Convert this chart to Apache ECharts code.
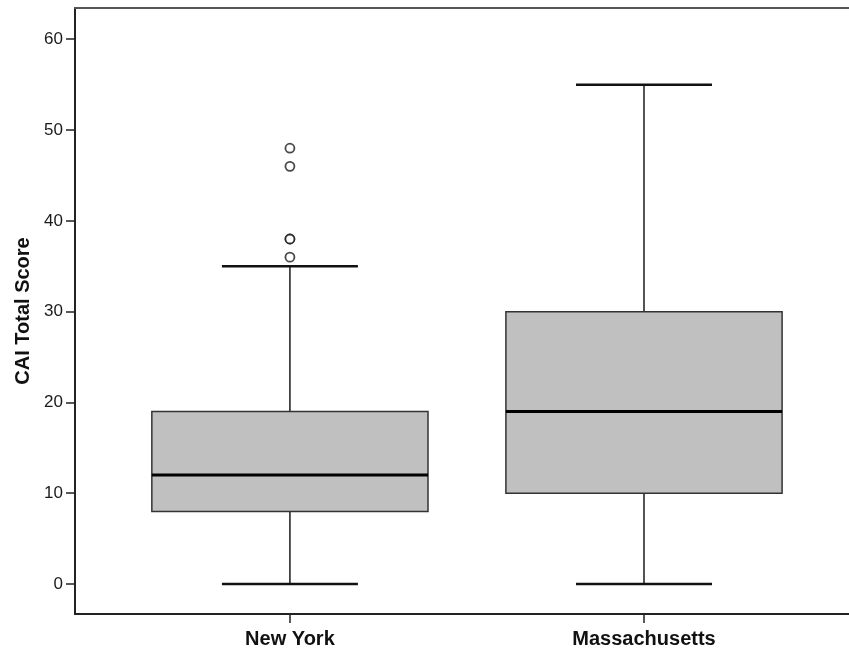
<!DOCTYPE html>
<html>
<head>
<meta charset="utf-8">
<script src="https://cdn.jsdelivr.net/npm/echarts@6/dist/echarts.min.js"></script>
<style>html,body{margin:0;padding:0;background:#fff}#c{width:849px;height:650px}</style>
</head>
<body>
<div id="c"></div>
<script>
var categories = ['New York', 'Massachusetts'];
var whiskerLow = [0, 0];
var q1 = [8, 10];
var median = [12, 19];
var q3 = [19, 30];
var whiskerHigh = [35, 55];
var outliers = [[0, 36], [0, 38], [0, 38], [0, 46], [0, 48]];
var yTicks = [0, 10, 20, 30, 40, 50, 60];

var boxData = categories.map(function (c, i) {
  return [i + 1, whiskerLow[i], q1[i], median[i], q3[i], whiskerHigh[i]];
});
var outlierData = outliers.map(function (o) { return [o[0] + 1, o[1]]; });
var catPos = categories.map(function (c, i) { return i + 1; });

var BOX_HALF = 0.39, CAP_HALF = 0.192;

function renderBox(params, api) {
  var x = api.value(0), lo = api.value(1), a = api.value(2), m = api.value(3), b = api.value(4), hi = api.value(5);
  var tl = api.coord([x - BOX_HALF, b]);
  var br = api.coord([x + BOX_HALF, a]);
  var cTop = api.coord([x, hi]);
  var cLo = api.coord([x, lo]);
  var cQ3 = api.coord([x, b]);
  var cQ1 = api.coord([x, a]);
  var mL = api.coord([x - BOX_HALF, m]);
  var mR = api.coord([x + BOX_HALF, m]);
  var capL = api.coord([x - CAP_HALF, hi]);
  var capR = api.coord([x + CAP_HALF, hi]);
  var capL2 = api.coord([x - CAP_HALF, lo]);
  var capR2 = api.coord([x + CAP_HALF, lo]);
  var wStyle = {stroke: '#1a1a1a', lineWidth: 1.5};
  var cStyle = {stroke: '#111', lineWidth: 2.5};
  return {
    type: 'group',
    children: [
      {type: 'line', shape: {x1: cTop[0], y1: cTop[1], x2: cQ3[0], y2: cQ3[1]}, style: wStyle},
      {type: 'line', shape: {x1: cQ1[0], y1: cQ1[1], x2: cLo[0], y2: cLo[1]}, style: wStyle},
      {type: 'line', shape: {x1: capL[0], y1: capL[1], x2: capR[0], y2: capR[1]}, style: cStyle},
      {type: 'line', shape: {x1: capL2[0], y1: capL2[1], x2: capR2[0], y2: capR2[1]}, style: cStyle},
      {type: 'rect', shape: {x: tl[0], y: tl[1], width: br[0] - tl[0], height: br[1] - tl[1]},
        style: {fill: '#c0c0c0', stroke: '#333', lineWidth: 1.5}},
      {type: 'line', shape: {x1: mL[0], y1: mL[1], x2: mR[0], y2: mR[1]}, style: {stroke: '#000', lineWidth: 3}}
    ]
  };
}

var chart = echarts.init(document.getElementById('c'), null, {renderer: 'canvas'});
chart.setOption({
  backgroundColor: '#fff',
  animation: false,
  grid: {left: 75, right: 0, top: 8, bottom: 36, containLabel: false, outerBoundsMode: 'none'},
  xAxis: [{
    type: 'value', min: 0.393, max: 2.579, position: 'bottom',
    splitLine: {show: false},
    axisLine: {show: true, onZero: false, lineStyle: {color: '#222', width: 2}},
    axisTick: {show: true, length: 9, customValues: catPos, lineStyle: {color: '#222', width: 1.5}},
    axisLabel: {
      customValues: catPos, margin: 15,
      fontFamily: 'Liberation Sans, Arial, sans-serif', fontWeight: 'bold', fontSize: 20, color: '#111',
      formatter: function (v) { return categories[Math.round(v) - 1] || ''; }
    }
  }, {
    type: 'value', min: 0.393, max: 2.579, position: 'top',
    splitLine: {show: false}, axisTick: {show: false}, axisLabel: {show: false},
    axisLine: {show: true, onZero: false, lineStyle: {color: '#555', width: 2}}
  }],
  yAxis: {
    type: 'value', min: -3.3, max: 63.44,
    name: 'CAI Total Score', nameLocation: 'middle', nameGap: 40,
    nameTextStyle: {fontFamily: 'Liberation Sans, Arial, sans-serif', fontWeight: 'bold', fontSize: 20, color: '#111'},
    splitLine: {show: false},
    axisLine: {show: true, onZero: false, lineStyle: {color: '#222', width: 2}},
    axisTick: {show: true, length: 9, customValues: yTicks, lineStyle: {color: '#222', width: 1.5}},
    axisLabel: {customValues: yTicks, margin: 12, fontFamily: 'Liberation Sans, Arial, sans-serif', fontSize: 17, color: '#1a1a1a'}
  },
  series: [{
    type: 'custom', renderItem: renderBox, data: boxData,
    encode: {x: 0, y: [1, 2, 3, 4, 5]}, z: 2
  }, {
    type: 'scatter', data: outlierData, symbol: 'circle', symbolSize: 9,
    itemStyle: {color: '#fff', borderColor: '#1a1a1a', borderWidth: 1.8}, z: 3
  }]
});
</script>
</body>
</html>
